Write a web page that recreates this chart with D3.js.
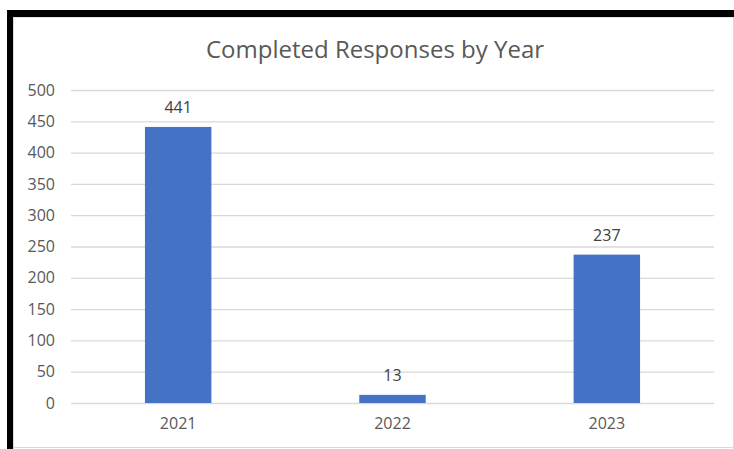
<!DOCTYPE html>
<html><head><meta charset="utf-8">
<script src="https://cdn.jsdelivr.net/npm/d3@7"></script>
<style>html,body{margin:0;padding:0;background:#fff;}svg{display:block;}</style>
</head><body>
<script>
const categories = ["2021", "2022", "2023"];
const values = [441, 13, 237];
const yTicks = [0, 50, 100, 150, 200, 250, 300, 350, 400, 450, 500];
const title = "Completed Responses by Year";

const W = 734, H = 449;
const svg = d3.select("body").append("svg").attr("width", W).attr("height", H);
const font = "'Open Sans', sans-serif";

// frame
svg.append("rect").attr("x", 7).attr("y", 10).attr("width", W - 7).attr("height", 7).attr("fill", "#000");
svg.append("rect").attr("x", 7).attr("y", 10).attr("width", 6).attr("height", H - 10).attr("fill", "#000");
svg.append("line").attr("x1", 13.5).attr("x2", 13.5).attr("y1", 17).attr("y2", H).attr("stroke", "#d9d9d9");
svg.append("line").attr("x1", 13).attr("x2", 733).attr("y1", 17.5).attr("y2", 17.5).attr("stroke", "#e6e6e6");
svg.append("line").attr("x1", 733.5).attr("x2", 733.5).attr("y1", 17).attr("y2", H).attr("stroke", "#d9d9d9");
svg.append("line").attr("x1", 13).attr("x2", W).attr("y1", 447.5).attr("y2", 447.5).attr("stroke", "#d9d9d9");

const x = d3.scaleBand().domain(categories).range([71, 714]).paddingInner(0.69).paddingOuter(0.345);
const y = d3.scaleLinear().domain([0, 500]).range([403, 90]);

// grid
const yAxis = d3.axisLeft(y).tickValues(yTicks).tickSize(-(714 - 71)).tickPadding(16);
const gy = svg.append("g").attr("transform", "translate(71,0)").call(yAxis);
gy.select(".domain").remove();
gy.selectAll(".tick line").attr("stroke", "#d9d9d9").attr("stroke-width", 1.3);
gy.selectAll(".tick text").attr("fill", "#595959").attr("font-family", font).attr("font-size", 16).attr("x", -16);

// bars
svg.append("g").selectAll("rect").data(values).join("rect")
  .attr("x", (d, i) => x(categories[i]))
  .attr("width", x.bandwidth())
  .attr("y", d => y(d))
  .attr("height", d => y(0) - y(d))
  .attr("fill", "#4472C4");

// value labels
svg.append("g").selectAll("text").data(values).join("text")
  .attr("x", (d, i) => x(categories[i]) + x.bandwidth() / 2)
  .attr("y", d => y(d) - 14)
  .attr("text-anchor", "middle")
  .attr("fill", "#404040").attr("font-family", font).attr("font-size", 16)
  .text(d => d);

// x axis
const xAxis = d3.axisBottom(x).tickSize(0).tickPadding(15);
const gx = svg.append("g").attr("transform", "translate(0,403)").call(xAxis);
gx.select(".domain").remove();
gx.selectAll(".tick text").attr("fill", "#595959").attr("font-family", font).attr("font-size", 16);

// title
svg.append("text").attr("x", 375).attr("y", 58).attr("text-anchor", "middle")
  .attr("fill", "#595959").attr("font-family", font).attr("font-size", 24).text(title);
</script>
</body></html>
